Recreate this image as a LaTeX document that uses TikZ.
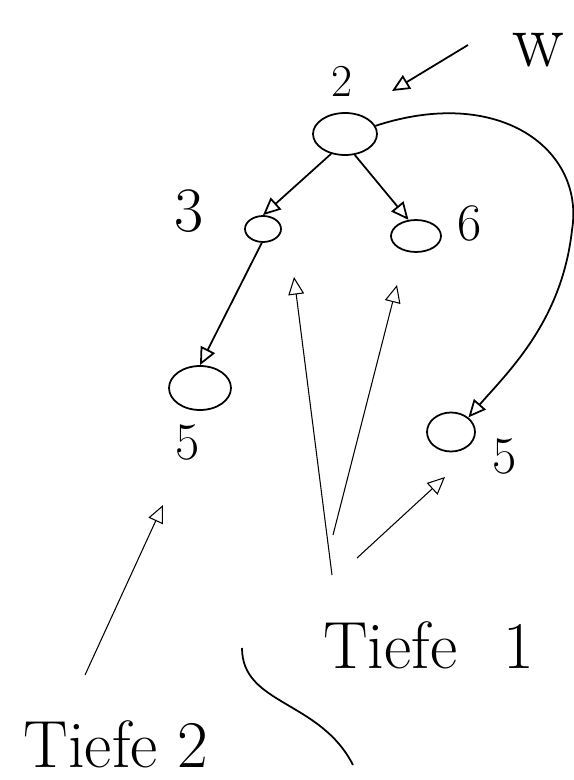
\documentclass[tikz,border=0pt]{standalone}
\usepackage{fontspec}
\usepackage{tikz}
\usetikzlibrary{positioning, shapes.geometric, arrows.meta}

\begin{document}
\begin{tikzpicture}[x=0.02cm, y=-0.02cm, line width=1pt,
  every node/.style={inner sep=1pt},
  knoten/.style={ellipse, draw, line width=1pt, inner sep=0pt},
  zahl/.style={font=\fontsize{30}{32}\selectfont},
  tiefe/.style={font=\fontsize{38}{40}\selectfont},
  pfeil/.style={-{Triangle[open, length=10pt, width=9pt]}},
  duenn/.style={line width=0.6pt}]
  \useasboundingbox (0,0) rectangle (574,780);
  \node[knoten, minimum width=1.28cm, minimum height=0.84cm] (n0) at (345,134) {};
  \node[knoten, minimum width=0.72cm, minimum height=0.52cm] (n1) at (263,229) {};
  \node[knoten, minimum width=1.00cm, minimum height=0.64cm] (n2) at (416,236) {};
  \node[knoten, minimum width=1.24cm, minimum height=0.88cm] (n3) at (200,388) {};
  \node[knoten, minimum width=0.96cm, minimum height=0.78cm] (n4) at (451,432) {};
  \node[font=\fontsize{26}{28}\selectfont] (l0) at (342,81) {2};
  \node[font=\fontsize{36}{38}\selectfont] (l1) at (189,211) {3};
  \node[zahl] (l2) at (470,224) {6};
  \node[zahl] (l3) at (188,443) {5};
  \node[zahl] (l4) at (505,457) {5};
  \node[font=\fontsize{44}{46}\selectfont] (w) at (538,50) {w};
  \node[tiefe] (t1) at (429,645) {Tiefe\hspace{0.7em}1};
  \node[tiefe] (t2) at (116,744) {Tiefe 2};
  \coordinate (a1) at (332,575);
  \coordinate (s1) at (294,277);
  \coordinate (a2) at (333,535);
  \coordinate (s2) at (397,285);
  \coordinate (a3) at (357,558);
  \coordinate (s3) at (445,477);
  \coordinate (a4) at (85,675);
  \coordinate (s4) at (163,505);
  \coordinate (a5) at (468,45);
  \coordinate (s5) at (392,91);
  \coordinate (b0) at (242,648);
  \coordinate (b1) at (353,765);
  \draw[pfeil] (n0.235) -- (n1.north);
  \draw[pfeil] (n0.295) -- (n2.115);
  \draw[pfeil] (n1.265) -- (n3.north);
  \draw[pfeil] (n0.15) .. controls (500,85) and (585,150) .. (572,230) .. controls (562,320) and (510,370) .. (n4.40);
  \draw[pfeil] (a5) -- (s5);
  \draw[pfeil, duenn] (a1) -- (s1);
  \draw[pfeil, duenn] (a2) -- (s2);
  \draw[pfeil, duenn] (a3) -- (s3);
  \draw[pfeil, duenn] (a4) -- (s4);
  \draw (b0) .. controls (242,705) and (320,700) .. (b1);
\end{tikzpicture}
\end{document}
